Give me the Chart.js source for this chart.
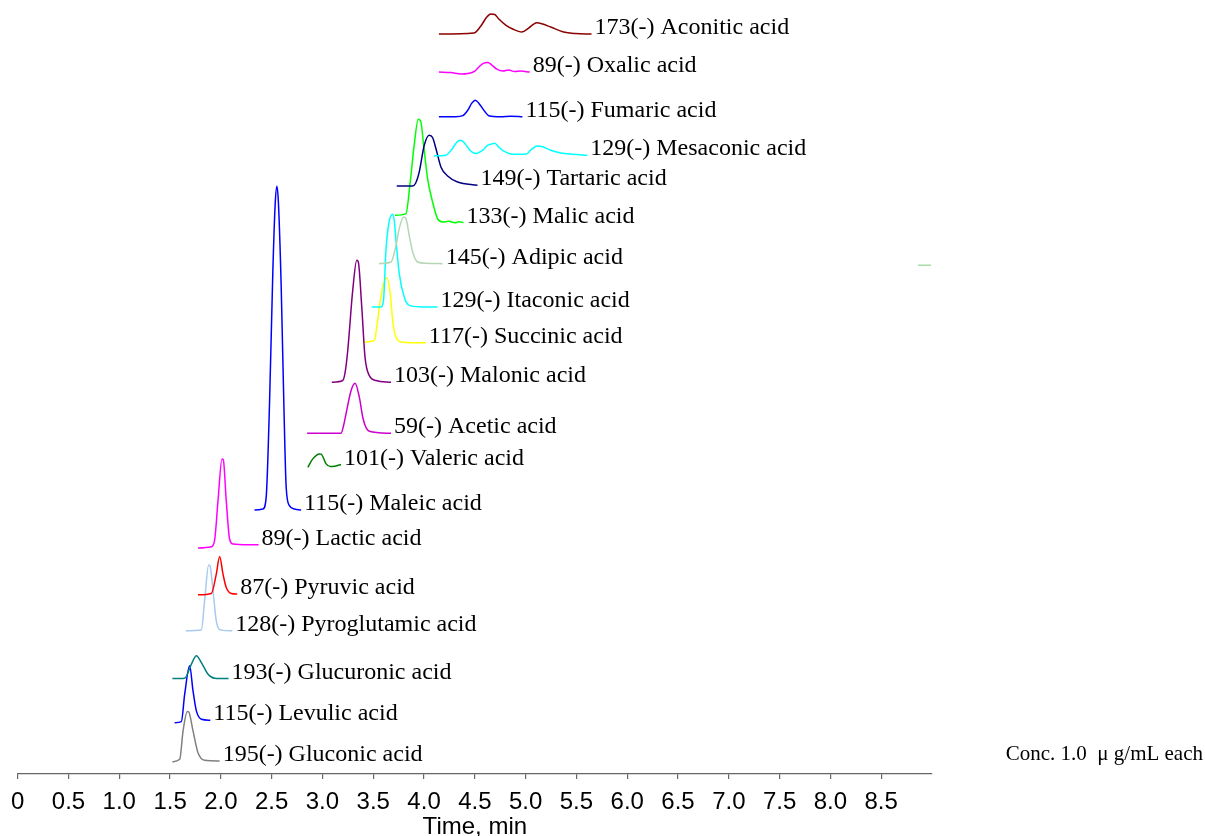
<!doctype html>
<html lang="en">
<head>
<meta charset="utf-8" />
<title>Organic acids - SIM chromatograms</title>
<script src="https://cdn.jsdelivr.net/npm/chart.js@4/dist/chart.umd.min.js"></script>
<style>
  html, body { margin: 0; padding: 0; background: #fff; }
  #wrap { width: 1205px; height: 836px; }
</style>
</head>
<body>
<div id="wrap">
  <canvas id="myChart" width="1205" height="836"></canvas>
</div>

<script>
// each trace: [time (min), signal (offset + intensity, arbitrary units)]
const aconitic = [[4.146,739],[4.490,740],[4.559,747],[4.618,756],[4.657,759],[4.696,758.5],[4.736,754],[4.804,748],[4.873,744],[4.962,741],[5.030,745],[5.080,749],[5.109,750.3],[5.168,749],[5.247,746],[5.374,741],[5.492,739.5],[5.649,739]];
const oxalic = [[4.146,701],[4.264,700.5],[4.362,699],[4.431,699.5],[4.500,702],[4.549,707],[4.588,710],[4.628,710.5],[4.667,708],[4.716,704],[4.775,702],[4.834,703],[4.893,701.5],[4.952,702],[5.040,701]];
const fumaric = [[4.146,656.5],[4.313,656.5],[4.382,657.5],[4.431,663],[4.470,670],[4.505,673],[4.539,670],[4.588,663],[4.637,657.5],[4.755,656.5],[4.854,657],[4.968,656.5]];
const mesaconic = [[4.097,617.3],[4.215,618],[4.274,624],[4.323,631],[4.357,633],[4.392,631],[4.451,623],[4.510,619.7],[4.578,623],[4.628,628],[4.657,629],[4.696,630],[4.736,626],[4.785,622],[4.873,619],[5.001,619],[5.060,624],[5.114,627.3],[5.168,626.5],[5.247,623],[5.345,620.3],[5.463,619],[5.607,618]];
const tartaric = [[3.731,587.3],[3.888,587.3],[3.917,590],[3.953,601.3],[4.002,628],[4.051,638],[4.084,635.7],[4.117,624.7],[4.166,606.3],[4.232,597.3],[4.330,591.3],[4.526,588]];
const malic = [[3.714,558],[3.822,559.7],[3.864,591.3],[3.903,628],[3.943,654],[3.969,651.3],[3.996,628],[4.035,594.7],[4.084,571.3],[4.133,554.7],[4.183,551.3],[4.244,552],[4.303,550.5],[4.343,551.5],[4.389,550.7]];
const adipic = [[3.557,509.7],[3.675,511.3],[3.724,528],[3.756,544.7],[3.799,556.3],[3.822,554.7],[3.854,538],[3.888,521.3],[3.937,511.3],[4.018,510],[4.183,509.7]];
const adipicTail = [[8.862,508],[8.990,508]];
const itaconic = [[3.485,466.3],[3.576,466.3],[3.601,473],[3.625,523],[3.655,551],[3.691,559],[3.709,551],[3.724,533],[3.756,499.7],[3.805,476.3],[3.854,468],[3.969,466.5],[4.133,466.3]];
const succinic = [[3.419,431.3],[3.511,433],[3.537,448],[3.560,466.3],[3.593,486.3],[3.632,495.7],[3.668,479.7],[3.691,453],[3.724,436.3],[3.789,431.3],[4.018,430.7]];
const malonic = [[3.092,391.3],[3.200,393],[3.223,401],[3.249,423],[3.298,483],[3.338,513],[3.353,511.3],[3.387,466.3],[3.419,416.3],[3.461,398],[3.527,393],[3.675,391.3]];
const acetic = [[2.849,340.3],[3.183,340.3],[3.208,348],[3.232,359.7],[3.282,383],[3.321,390.3],[3.363,376.3],[3.397,356.3],[3.424,347],[3.461,342.3],[3.675,340.3]];
const valeric = [[2.856,306.3],[2.905,314.7],[2.970,319.7],[2.987,319.5],[3.036,309.7],[3.078,307],[3.134,307.7],[3.183,309]];
const maleic = [[2.331,263.7],[2.414,264.7],[2.446,276.3],[2.479,369.7],[2.512,503],[2.535,569.7],[2.552,587],[2.567,569.7],[2.594,486.3],[2.620,369.7],[2.643,286.3],[2.675,268],[2.725,264.7],[2.790,263.7]];
const lactic = [[1.775,225.7],[1.906,227],[1.938,233],[1.972,273],[2.011,314.7],[2.024,314],[2.053,273],[2.086,234.7],[2.119,229.7],[2.267,229],[2.371,229]];
const pyruvic = [[1.775,179],[1.906,180.3],[1.955,199.7],[1.988,217.3],[2.021,199.7],[2.053,186.3],[2.103,180.3],[2.161,179.7]];
const pyroglutamic = [[1.654,143],[1.808,143.7],[1.840,173],[1.880,208.7],[1.893,208],[1.923,183],[1.955,153],[2.004,143.7],[2.112,143]];
const glucuronic = [[1.523,95.3],[1.644,95.7],[1.710,109.7],[1.759,118],[1.808,111.3],[1.874,99.7],[1.938,95.7],[2.076,95.3]];
const levulic = [[1.545,51.3],[1.611,52.3],[1.644,79.7],[1.693,108],[1.726,83],[1.759,63],[1.808,54.7],[1.896,53.7]];
const gluconic = [[1.523,12.3],[1.595,14.7],[1.628,43],[1.670,62.3],[1.683,62],[1.726,43],[1.775,21.3],[1.840,13.7],[1.988,13]];

const traces = [aconitic, oxalic, fumaric, mesaconic, tartaric, malic, adipic, itaconic, succinic, malonic, acetic, valeric, maleic, lactic, pyruvic, pyroglutamic, glucuronic, levulic, gluconic];
const ions = [173, 89, 115, 129, 149, 133, 145, 129, 117, 103, 59, 101, 115, 89, 87, 128, 193, 115, 195];
const compounds = ['Aconitic acid', 'Oxalic acid', 'Fumaric acid', 'Mesaconic acid', 'Tartaric acid', 'Malic acid', 'Adipic acid', 'Itaconic acid', 'Succinic acid', 'Malonic acid', 'Acetic acid', 'Valeric acid', 'Maleic acid', 'Lactic acid', 'Pyruvic acid', 'Pyroglutamic acid', 'Glucuronic acid', 'Levulic acid', 'Gluconic acid'];
const colors = ['#8b0000', '#ff00ff', '#0000ff', '#00ffff', '#000080', '#00ff00', '#b4d6b4', '#00ffff', '#ffff00', '#800080', '#cc00cc', '#008000', '#0000ff', '#ff00ff', '#ff0000', '#a6caf0', '#008080', '#0000ff', '#808080'];
const xTicks = { min: 0, max: 9, step: 0.5 };
const concNote = 'Conc. 1.0  \u03bc g/mL each';

const toXY = arr => arr.map(p => ({x: p[0], y: p[1]}));

const datasets = traces.map((tr, i) => ({
    label: ions[i] + '(-) ' + compounds[i],
    data: toXY(tr),
    borderColor: colors[i],
    borderWidth: 1.5,
    pointRadius: 0,
    cubicInterpolationMode: 'monotone',
    fill: false
}));
// small stray piece of the adipic trace at the right end
datasets.push({
    label: '',
    data: toXY(adipicTail),
    borderColor: '#a8dca8',
    borderWidth: 1.5,
    pointRadius: 0,
    fill: false
});

// names written at the end of each trace
const traceLabels = {
    id: 'traceLabels',
    afterDatasetsDraw(chart) {
        const {ctx, scales: {x, y}} = chart;
        ctx.save();
        ctx.fillStyle = '#000';
        ctx.textBaseline = 'alphabetic';
        ctx.textAlign = 'left';
        ctx.font = '24px "Liberation Serif", "Times New Roman", serif';
        traces.forEach((tr, i) => {
            const last = tr[tr.length - 1];
            ctx.fillText(ions[i] + '(-) ' + compounds[i], x.getPixelForValue(last[0]) + 3, y.getPixelForValue(last[1]));
        });
        ctx.font = '21px "Liberation Serif", "Times New Roman", serif';
        ctx.textAlign = 'right';
        ctx.fillText(concNote, chart.width - 2, y.getPixelForValue(14));
        ctx.restore();
    }
};

const mychart = new Chart(document.getElementById('myChart'), {
    type: 'line',
    data: { datasets: datasets },
    options: {
        responsive: false,
        devicePixelRatio: 1,
        animation: false,
        layout: { padding: { left: 16, right: 273, top: 0, bottom: -3 } },
        plugins: {
            legend: { display: false },
            tooltip: { enabled: false }
        },
        scales: {
            x: {
                type: 'linear',
                min: xTicks.min,
                max: xTicks.max,
                border: { display: true, color: '#666', width: 1.2 },
                grid: { drawOnChartArea: false, drawTicks: true, tickLength: 5, color: '#666', lineWidth: 1.2 },
                afterBuildTicks: s => { s.ticks = s.ticks.filter(t => t.value < xTicks.max); },
                ticks: {
                    stepSize: xTicks.step,
                    autoSkip: false,
                    maxRotation: 0,
                    padding: 11,
                    color: '#000',
                    font: { family: '"Liberation Sans", Arial, sans-serif', size: 24, lineHeight: 1 },
                    callback: v => v === 0 ? '0' : v.toFixed(1)
                },
                title: {
                    display: true,
                    text: 'Time, min',
                    color: '#000',
                    padding: { top: -10, bottom: 0 },
                    font: { family: '"Liberation Sans", Arial, sans-serif', size: 24, lineHeight: 1 }
                }
            },
            y: {
                type: 'linear',
                display: false,
                min: 0,
                max: 773
            }
        }
    },
    plugins: [traceLabels]
});
</script>
</body>
</html>
